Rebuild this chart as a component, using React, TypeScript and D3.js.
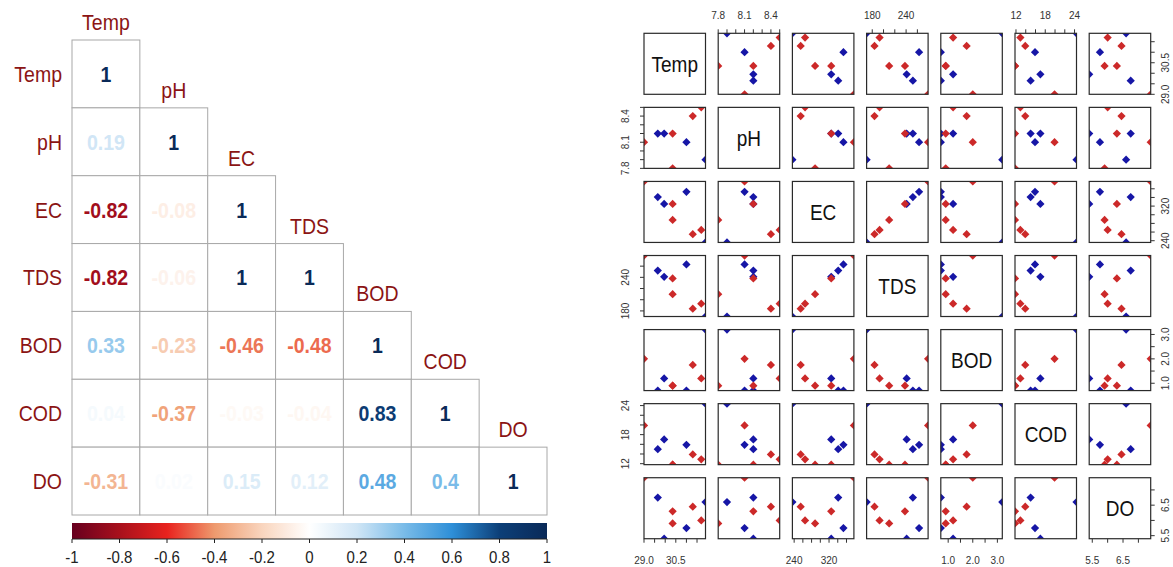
import * as d3 from "d3";

const vars = ["Temp", "pH", "EC", "TDS", "BOD", "COD", "DO"];

// lower triangle of the correlation matrix, row by row
const corrRows = [
  [1],
  [0.19, 1],
  [-0.82, -0.08, 1],
  [-0.82, -0.06, 1, 1],
  [0.33, -0.23, -0.46, -0.48, 1],
  [0.04, -0.37, -0.03, -0.04, 0.83, 1],
  [-0.31, 0.02, 0.15, 0.12, 0.48, 0.4, 1],
];
const barTicks = [-1, -0.8, -0.6, -0.4, -0.2, 0, 0.2, 0.4, 0.6, 0.8, 1];

// the nine samples of the scatter matrix
const group = ["a", "b", "b", "a", "a", "b", "a", "a", "b"];
const temp = [29.0, 29.65, 29.95, 30.35, 30.35, 31.0, 31.3, 31.7, 31.9];
const ph = [8.1, 8.2, 8.2, 8.2, 7.8, 8.1, 8.4, 8.5, 7.9];
const ec = [377, 341, 325, 325, 288, 353, 255, 265, 236];
const tds = [279, 252, 241, 238, 210, 263, 184, 193, 170];
const bod = [2.0, 0.7, 1.2, 0.9, 0.9, 0.7, 1.75, 1.2, 3.2];
const cod = [19.9, 15.0, 17.0, 11.8, 11.8, 15.9, 13.9, 12.9, 24.4];
const dox = [7.4, 6.75, 5.4, 6.3, 5.9, 5.75, 6.45, 6.0, 6.6];
const series = [temp, ph, ec, tds, bod, cod, dox];

const tickVals = [
  [29.0, 29.5, 30.0, 30.5, 31.0, 31.5],
  [7.8, 7.9, 8.0, 8.1, 8.2, 8.3, 8.4, 8.5],
  [240, 260, 280, 300, 320, 340, 360],
  [180, 200, 220, 240, 260],
  [1.0, 1.5, 2.0, 2.5, 3.0],
  [12, 14, 16, 18, 20, 22, 24],
  [5.5, 6.0, 6.5, 7.0],
];
const tickLabels = [
  ["29.0", "30.5"],
  ["7.8", "8.1", "8.4"],
  ["240", "320"],
  ["180", "240"],
  ["1.0", "2.0", "3.0"],
  ["12", "18", "24"],
  ["5.5", "6.5"],
];

const FONT = "'Liberation Sans', Arial, sans-serif";

// corrplot palette
const color = d3
  .scaleLinear<string>()
  .domain(barTicks)
  .range([
    "#67001F", "#A8101C", "#E8221E", "#EE9A6E", "#F9D5BE", "#FFFFFF",
    "#CFE5F5", "#79BBE8", "#2E8FD8", "#0C3F78", "#0A2A58",
  ])
  .interpolate(d3.interpolateRgb);

const groupColor: Record<string, string> = { a: "#CC2929", b: "#1616A6" };

// the source text is drawn a little taller than wide
const stretch = (x: number, y: number) => `translate(${x},${y}) scale(1,1.13)`;

function CorrPlot() {
  const x = d3.scaleBand().domain(vars).range([72, 547]);
  const y = d3.scaleBand().domain(vars).range([40, 515]);
  const bx = d3.scaleLinear().domain([-1, 1]).range([72, 547]);
  const gradStops = d3.range(0, 41).map(i => -1 + i * 0.05);
  return (
    <g fontFamily={FONT}>
      <defs>
        <linearGradient id="cbar" x1="0" x2="1" y1="0" y2="0">
          {gradStops.map(v => (
            <stop key={v} offset={(v + 1) / 2} stopColor={color(v)} />
          ))}
        </linearGradient>
      </defs>
      {corrRows.map((row, i) =>
        row.map((v, j) => (
          <g key={`${i}-${j}`}>
            <rect
              x={x(vars[j])}
              y={y(vars[i])}
              width={x.bandwidth()}
              height={y.bandwidth()}
              fill="#fff"
              stroke="#a8a8a8"
              strokeWidth={1}
            />
            <text
              transform={stretch(x(vars[j])! + x.bandwidth() / 2, y(vars[i])! + y.bandwidth() / 2)}
              dy="0.36em"
              textAnchor="middle"
              fontSize={19.5}
              fontWeight="bold"
              fill={color(v)}
            >
              {String(v)}
            </text>
          </g>
        ))
      )}
      {vars.map(v => (
        <text
          key={"r" + v}
          transform={stretch(62, y(v)! + y.bandwidth() / 2)}
          dy="0.36em"
          textAnchor="end"
          fontSize={19.5}
          fill="#8B1414"
        >
          {v}
        </text>
      ))}
      {vars.map(v => (
        <text
          key={"c" + v}
          transform={stretch(x(v)! + x.bandwidth() / 2, y(v)! - 10)}
          textAnchor="middle"
          fontSize={19.5}
          fill="#8B1414"
        >
          {v}
        </text>
      ))}
      <rect x={72} y={523} width={475} height={16} fill="url(#cbar)" />
      <line x1={72} x2={547} y1={539} y2={539} stroke="#222" strokeWidth={1} />
      {barTicks.map(t => (
        <g key={t}>
          <line x1={bx(t)} x2={bx(t)} y1={539} y2={543} stroke="#222" />
          <text transform={stretch(bx(t), 563)} textAnchor="middle" fontSize={15} fill="#222">
            {String(t)}
          </text>
        </g>
      ))}
    </g>
  );
}

const PX0 = 644;
const PSX = 74.2;
const PW = 61.5;
const PY0 = 33.3;
const PSY = 74.07;
const PH = 61;

function Pairs() {
  const n = vars.length;
  const sx = series.map(s => d3.scaleLinear().domain(d3.extent(s) as [number, number]).range([0, PW]));
  const sy = series.map(s => d3.scaleLinear().domain(d3.extent(s) as [number, number]).range([PH, 0]));
  const sym = d3.symbol().type(d3.symbolSquare).size(34)();
  const tk = 4;
  return (
    <g fontFamily={FONT}>
      <defs>
        <clipPath id="panelClip">
          <rect x={0} y={0} width={PW} height={PH} />
        </clipPath>
      </defs>
      {d3.range(n).map(r =>
        d3.range(n).map(c => {
          const ox = PX0 + c * PSX;
          const oy = PY0 + r * PSY;
          return (
            <g key={`${r}-${c}`} transform={`translate(${ox},${oy})`}>
              <rect width={PW} height={PH} fill="#fff" />
              {r === c ? (
                <text transform={stretch(PW / 2, PH / 2)} dy="0.36em" textAnchor="middle" fontSize={19} fill="#111">
                  {vars[r]}
                </text>
              ) : (
                <g clipPath="url(#panelClip)">
                  {series[c].map((v, k) => (
                    <path
                      key={k}
                      d={sym!}
                      transform={`translate(${sx[c](v)},${sy[r](series[r][k])}) rotate(45)`}
                      fill={groupColor[group[k]]}
                    />
                  ))}
                </g>
              )}
              <rect width={PW} height={PH} fill="none" stroke="#2a2a2a" strokeWidth={1.2} />
              {/* column axes alternate top / bottom, row axes alternate right / left */}
              {r === 0 && c % 2 === 1 && (
                <g>
                  {tickVals[c].map(t => (
                    <line key={t} x1={sx[c](t)} x2={sx[c](t)} y1={0} y2={-tk} stroke="#333" />
                  ))}
                  {tickLabels[c].map(l => (
                    <text key={l} x={sx[c](+l)} y={-14.5} textAnchor="middle" fontSize={10} fill="#333">
                      {l}
                    </text>
                  ))}
                </g>
              )}
              {r === n - 1 && c % 2 === 0 && (
                <g>
                  {tickVals[c].map(t => (
                    <line key={t} x1={sx[c](t)} x2={sx[c](t)} y1={PH} y2={PH + tk} stroke="#333" />
                  ))}
                  {tickLabels[c].map(l => (
                    <text key={l} x={sx[c](+l)} y={PH + 25} textAnchor="middle" fontSize={10} fill="#333">
                      {l}
                    </text>
                  ))}
                </g>
              )}
              {c === 0 && r % 2 === 1 && (
                <g>
                  {tickVals[r].map(t => (
                    <line key={t} x1={0} x2={-tk} y1={sy[r](t)} y2={sy[r](t)} stroke="#333" />
                  ))}
                  {tickLabels[r].map(l => (
                    <text
                      key={l}
                      transform={`translate(${-15},${sy[r](+l)}) rotate(-90)`}
                      textAnchor="middle"
                      fontSize={10}
                      fill="#333"
                    >
                      {l}
                    </text>
                  ))}
                </g>
              )}
              {c === n - 1 && r % 2 === 0 && (
                <g>
                  {tickVals[r].map(t => (
                    <line key={t} x1={PW} x2={PW + tk} y1={sy[r](t)} y2={sy[r](t)} stroke="#333" />
                  ))}
                  {tickLabels[r].map(l => (
                    <text
                      key={l}
                      transform={`translate(${PW + 18},${sy[r](+l)}) rotate(-90)`}
                      textAnchor="middle"
                      fontSize={10}
                      fill="#333"
                    >
                      {l}
                    </text>
                  ))}
                </g>
              )}
            </g>
          );
        })
      )}
    </g>
  );
}

export default function App() {
  return (
    <svg
      width={1173}
      height={567}
      style={{ position: "absolute", left: 0, top: 0, background: "#fff" }}
    >
      <rect width={1173} height={567} fill="#fff" />
      <CorrPlot />
      <Pairs />
    </svg>
  );
}
